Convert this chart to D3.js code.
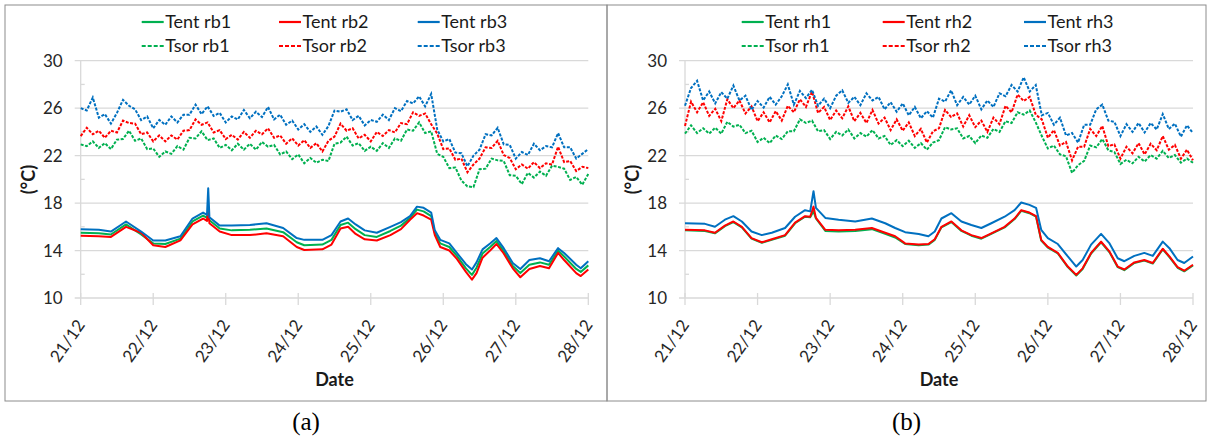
<!DOCTYPE html>
<html><head><meta charset="utf-8">
<script src="https://cdn.jsdelivr.net/npm/d3@7"></script>
<style>body{margin:0;background:#fff}svg{display:block}</style>
</head><body><svg id="c" width="1210" height="437"></svg>
<script>
// ---------- data ----------
const dateLabels = ["21/12","22/12","23/12","24/12","25/12","26/12","27/12","28/12"];
const dateHours = [0,24,48,72,96,120,144,168];
const yTicks = [10,14,18,22,26,30];
const yMinor = [12,16,20,24,28];
const namesA = ["Tent rb1","Tent rb2","Tent rb3","Tsor rb1","Tsor rb2","Tsor rb3"];
const namesB = ["Tent rh1","Tent rh2","Tent rh3","Tsor rh1","Tsor rh2","Tsor rh3"];
const seriesColors = ["#00b050","#ff0000","#0070c0","#00b050","#ff0000","#0070c0"];

// hours (from 21/12 00:00) of the Tsor readings, every 2 h
const tSor = d3.range(0, 169, 2);

// panel (a) Tent, hours of readings
const tTentA = [0,6,10,15,20,24,28,33,37,40.5,41.8,42.2,42.6,46,50,56,61.5,67,71.5,74,80,83,86,88.5,91,94,98,102.5,106,109,111.3,113.5,116,117.2,119,122,124.5,127.5,129.5,131,133,135.5,137.6,140,143,145.5,148.5,152,155,158,160,164,165.5,168];
const tentRb1 = [15.5,15.45,15.35,16.2,15.35,14.6,14.55,15.0,16.45,16.95,16.75,17.4,16.55,15.85,15.7,15.75,15.85,15.55,14.7,14.45,14.5,14.9,16.15,16.35,15.8,15.3,15.15,15.65,16.1,16.75,17.45,17.3,16.9,15.5,14.6,14.3,13.55,12.5,11.95,12.55,13.75,14.3,14.8,13.95,12.7,12.1,12.8,13.0,12.8,14.0,13.5,12.45,12.2,12.75];
const tentRb2 = [15.25,15.2,15.15,16.0,15.5,14.45,14.3,14.85,16.2,16.7,16.5,17.6,16.3,15.6,15.3,15.3,15.45,15.2,14.3,14.05,14.1,14.5,15.85,16.0,15.4,14.95,14.85,15.3,15.8,16.6,17.15,16.95,16.6,15.3,14.3,14.0,13.3,12.2,11.55,12.1,13.4,14.0,14.55,13.75,12.5,11.75,12.45,12.7,12.5,13.8,13.2,12.1,11.85,12.4];
const tentRb3 = [15.8,15.75,15.6,16.45,15.6,14.85,14.85,15.2,16.7,17.2,17.0,19.25,16.8,16.1,16.1,16.15,16.3,15.9,15.05,14.9,14.9,15.3,16.45,16.7,16.2,15.7,15.5,16.0,16.4,16.9,17.7,17.6,17.2,15.7,14.9,14.6,13.8,12.85,12.4,13.0,14.1,14.6,15.05,14.2,12.95,12.45,13.2,13.35,13.1,14.2,13.8,12.8,12.5,13.1];
const tsorRb1 = [22.95,22.8,23.2,22.65,23.05,22.55,23.35,23.4,24.1,23.25,23.45,22.55,22.6,21.9,22.35,22.15,22.8,22.5,23.5,23.45,24.05,23.3,23.45,22.65,22.9,22.45,23.0,22.5,23.0,22.5,23.15,22.75,22.9,22.1,22.35,21.7,22.1,21.35,21.8,21.4,21.65,21.55,23.0,23.1,23.6,22.85,23.05,22.4,22.75,22.4,23.05,22.65,23.45,23.25,24.2,24.1,24.8,23.9,24.05,22.15,21.9,20.95,21.0,19.9,19.4,19.35,20.85,20.9,21.75,21.6,21.55,20.35,20.3,19.6,20.55,20.15,20.65,20.3,21.15,21.05,20.9,19.95,20.2,19.55,20.45];
const tsorRb2 = [23.65,24.35,23.8,24.1,23.5,24.1,23.95,24.95,24.75,24.7,23.8,23.95,23.2,23.7,23.2,23.7,23.35,24.1,24.15,25.05,24.6,24.8,23.95,24.15,23.4,23.75,23.35,24.0,23.5,24.1,23.8,24.3,23.5,23.7,23.0,23.45,22.85,23.3,22.65,23.05,22.35,23.25,23.6,24.7,24.1,24.3,23.45,23.75,23.2,24.0,23.65,24.15,23.95,24.75,24.65,25.65,25.35,25.55,24.65,23.85,22.55,22.6,21.65,21.75,20.6,21.25,21.75,22.7,22.65,23.25,22.05,21.8,20.85,21.25,20.9,21.45,20.95,21.35,21.25,22.75,21.45,21.55,20.7,21.05,20.95];
const tsorRb3 = [26.0,25.8,26.9,25.2,25.5,24.7,25.6,26.7,26.2,25.9,25.0,25.3,24.3,25.0,24.6,25.3,24.8,25.45,25.45,26.3,25.5,26.15,25.35,25.6,24.8,25.3,25.05,25.85,25.15,25.7,25.25,26.1,25.05,25.45,24.6,24.95,24.2,24.65,24.0,24.45,23.75,24.5,25.8,25.7,25.9,25.0,25.35,24.55,25.0,24.85,25.45,25.0,26.0,25.75,26.6,26.4,27.0,26.15,27.2,24.2,23.2,23.4,22.25,22.2,21.1,22.0,22.5,23.8,23.7,24.35,22.95,22.9,21.75,22.3,22.05,23.0,22.45,22.8,22.7,23.9,22.7,22.7,21.75,22.15,22.55];

// panel (b) Tent, hours of readings
const tTentB = [0,6.6,9.9,13.2,16,18.8,22,25.4,28.7,33.1,36.4,39.7,41.4,42.5,43.3,46.4,50.8,56.3,61.8,66.2,69.5,72.8,77.3,80.5,82.6,84.8,88.1,91.4,94.7,98,101.3,105.7,109,111.2,113.9,116.1,117.8,120,123.3,126.6,129.4,131.5,134.3,137.6,140.4,143.1,145.3,148.6,151.9,154.7,158,160.2,162.9,165.1,168];
const tentRh1 = [15.7,15.65,15.45,16.05,16.4,15.95,15.0,14.65,14.9,15.25,16.3,16.85,16.8,17.3,16.7,15.65,15.6,15.65,15.8,15.4,15.1,14.55,14.45,14.5,14.9,15.95,16.4,15.65,15.25,15.0,15.4,15.95,16.65,17.35,17.15,16.85,14.85,14.25,13.75,12.6,11.9,12.45,13.75,14.7,13.85,12.6,12.35,12.95,13.15,12.9,14.1,13.45,12.55,12.25,12.75];
const tentRh2 = [15.75,15.7,15.5,16.1,16.45,16.0,15.05,14.7,14.95,15.3,16.35,16.9,16.85,17.7,16.75,15.75,15.7,15.75,15.9,15.5,15.2,14.6,14.5,14.55,14.95,16.0,16.45,15.7,15.3,15.05,15.45,16.0,16.7,17.4,17.2,16.9,14.9,14.3,13.8,12.65,11.95,12.5,13.8,14.75,13.9,12.65,12.4,13.0,13.2,12.95,14.15,13.5,12.6,12.3,12.8];
const tentRh3 = [16.3,16.25,16.0,16.6,16.9,16.45,15.6,15.3,15.5,15.9,16.85,17.4,17.3,19.0,17.6,16.75,16.6,16.45,16.7,16.3,15.9,15.55,15.4,15.2,15.6,16.7,17.15,16.45,16.15,15.9,16.3,16.85,17.4,18.05,17.85,17.6,15.75,15.05,14.55,13.5,12.65,13.2,14.5,15.4,14.6,13.35,13.1,13.55,13.8,13.55,14.75,14.2,13.2,12.95,13.5];
const tsorRh1 = [23.85,24.55,23.9,24.3,23.85,24.35,23.85,24.85,24.45,24.6,23.9,24.1,23.15,23.5,23.05,23.7,23.4,24.05,24.05,25.05,24.75,24.95,24.05,24.15,23.4,24.0,23.7,24.2,23.45,23.9,23.6,24.15,23.45,23.65,22.9,23.3,22.8,23.25,22.65,23.05,22.5,23.1,23.3,24.4,24.2,24.3,23.45,23.65,23.05,23.7,23.5,24.25,24.0,24.9,24.75,25.65,25.45,25.8,24.8,23.65,22.6,22.85,22.1,21.95,20.55,21.2,21.55,22.85,22.7,23.4,22.45,22.3,21.3,21.65,21.35,21.9,21.5,22.05,21.75,22.4,21.8,22.05,21.4,21.75,21.4];
const tsorRh2 = [24.5,26.55,25.65,26.5,25.35,25.95,24.9,26.75,26.0,26.65,25.55,26.15,24.9,25.65,24.8,25.75,24.95,26.2,25.65,26.75,26.1,27.4,25.6,26.1,25.0,25.8,25.15,26.15,24.9,25.6,24.75,25.85,24.7,25.2,24.15,25.05,24.1,24.8,23.65,24.25,23.1,24.05,24.3,25.85,25.25,25.55,24.45,25.4,24.4,24.95,24.0,25.2,24.65,26.2,25.65,27.15,26.6,26.95,25.45,25.05,23.5,24.15,22.85,23.15,21.6,22.75,22.75,24.25,23.65,24.5,22.8,22.95,21.75,22.75,22.2,23.05,22.1,23.0,22.45,23.65,22.5,22.9,21.75,22.5,21.6];
const tsorRh3 = [26.2,27.7,28.3,26.65,27.4,26.4,27.35,26.8,27.9,26.65,27.05,25.85,26.6,26.05,26.95,26.3,27.0,28.0,26.3,27.45,26.85,27.55,26.2,26.8,26.0,27.05,27.5,26.45,26.95,26.25,27.25,26.65,26.95,25.9,26.5,25.7,26.4,25.4,26.1,25.15,25.75,25.2,26.8,26.55,27.5,26.25,26.95,26.3,27.05,25.9,26.65,26.1,27.25,27.0,27.95,27.4,28.6,27.4,27.95,25.4,25.6,24.6,25.2,23.7,23.9,23.1,24.6,24.6,25.9,26.3,24.95,24.85,23.65,24.65,24.0,24.75,23.95,24.75,24.2,25.5,24.25,24.7,23.6,24.55,23.9];

// ---------- layout ----------
const svg = d3.select("#c");
svg.append("rect").attr("width",1210).attr("height",437).attr("fill","#fff");

const panels = [
  {names:namesA, tent:[tentRb1,tentRb2,tentRb3], tTent:tTentA, sor:[tsorRb1,tsorRb2,tsorRb3],
   box:[5,607], x0:80.7, x1:588.3, legX:[141.7,279,417.7], cap:"(a)"},
  {names:namesB, tent:[tentRh1,tentRh2,tentRh3], tTent:tTentB, sor:[tsorRh1,tsorRh2,tsorRh3],
   box:[607,1206], x0:685, x1:1193, legX:[741.7,882.7,1024], cap:"(b)"}
];
const yTop = 60.7, yBot = 298;
const font = "Lato, 'Open Sans', sans-serif";
const grid = "#d9d9d9";

panels.forEach(p => {
  const g = svg.append("g");
  g.append("rect").attr("x",p.box[0]).attr("y",5).attr("width",p.box[1]-p.box[0]).attr("height",396)
    .attr("fill","none").attr("stroke","#8c8c8c").attr("stroke-width",1);

  const x = d3.scaleLinear().domain([0,168]).range([p.x0,p.x1]);
  const y = d3.scaleLinear().domain([10,30]).range([yBot,yTop]);

  // gridlines + ticks
  g.selectAll(".gl").data(yTicks).join("line")
    .attr("x1",p.x0-6).attr("x2",p.x1).attr("y1",d=>y(d)).attr("y2",d=>y(d))
    .attr("stroke",grid).attr("stroke-width",1.3);
  g.append("line").attr("x1",p.x0).attr("x2",p.x0).attr("y1",y(30)).attr("y2",y(10))
    .attr("stroke",grid).attr("stroke-width",1.3);
  g.selectAll(".mn").data(yMinor).join("line")
    .attr("x1",p.x0).attr("x2",p.x0+4).attr("y1",d=>y(d)).attr("y2",d=>y(d))
    .attr("stroke",grid).attr("stroke-width",1.3);
  g.selectAll(".xt").data(dateHours).join("line")
    .attr("x1",d=>x(d)).attr("x2",d=>x(d)).attr("y1",yBot-5).attr("y2",yBot+7)
    .attr("stroke",grid).attr("stroke-width",1.3);

  // y tick labels
  g.selectAll(".yl").data(yTicks).join("text")
    .attr("x",p.x0-18).attr("y",d=>y(d)).attr("dy","0.36em")
    .attr("text-anchor","end").attr("font-family",font).attr("font-size",17).attr("fill","#262626")
    .text(d=>d);
  // x tick labels (baseline end just below-right of the tick)
  g.selectAll(".xl").data(dateHours).join("text")
    .attr("transform",(d)=>`translate(${x(d)+5},${yBot+27}) rotate(-55)`)
    .attr("text-anchor","end")
    .attr("font-family",font).attr("font-size",17).attr("fill","#262626")
    .text((d,i)=>dateLabels[i]);

  // axis titles
  g.append("text").attr("transform",`translate(${p.x0-52},179.5) rotate(-90)`)
    .attr("text-anchor","middle").attr("dy","0.36em").attr("font-family",font)
    .attr("font-weight","bold").attr("font-size",18).attr("fill","#1a1a1a").text("(°C)");
  g.append("text").attr("x",(p.x0+p.x1)/2).attr("y",380).attr("dy","0.36em")
    .attr("text-anchor","middle").attr("font-family",font).attr("font-weight","bold")
    .attr("font-size",18).attr("fill","#1a1a1a").text("Date");
  // caption
  svg.append("text").attr("x",(p.box[0]+p.box[1])/2).attr("y",421.5).attr("dy","0.35em")
    .attr("text-anchor","middle").attr("font-family","'Liberation Serif','Times New Roman',serif")
    .attr("font-size",25).attr("fill","#000").text(p.cap);

  // lines
  const line = (ts) => d3.line().x((d,i)=>x(ts[i])).y(d=>y(d));
  p.tent.forEach((s,k) => {
    g.append("path").attr("d",line(p.tTent)(s)).attr("fill","none")
      .attr("stroke",seriesColors[k]).attr("stroke-width",2).attr("stroke-linejoin","round");
  });
  p.sor.forEach((s,k) => {
    g.append("path").attr("d",line(tSor)(s)).attr("fill","none")
      .attr("stroke",seriesColors[k+3]).attr("stroke-width",2).attr("stroke-dasharray","3,1.5");
  });

  // legend
  p.names.forEach((n,k) => {
    const col = k%3, row = Math.floor(k/3);
    const lx = p.legX[col], ly = row ? 46 : 22;
    g.append("line").attr("x1",lx).attr("x2",lx+22).attr("y1",ly).attr("y2",ly)
      .attr("stroke",seriesColors[k]).attr("stroke-width",2.2)
      .attr("stroke-dasharray",row ? "4,2" : null);
    g.append("text").attr("x",lx+23.5).attr("y",ly).attr("dy","0.36em")
      .attr("font-family",font).attr("font-size",18).attr("fill","#1a1a1a").text(n);
  });
});
</script></body></html>
